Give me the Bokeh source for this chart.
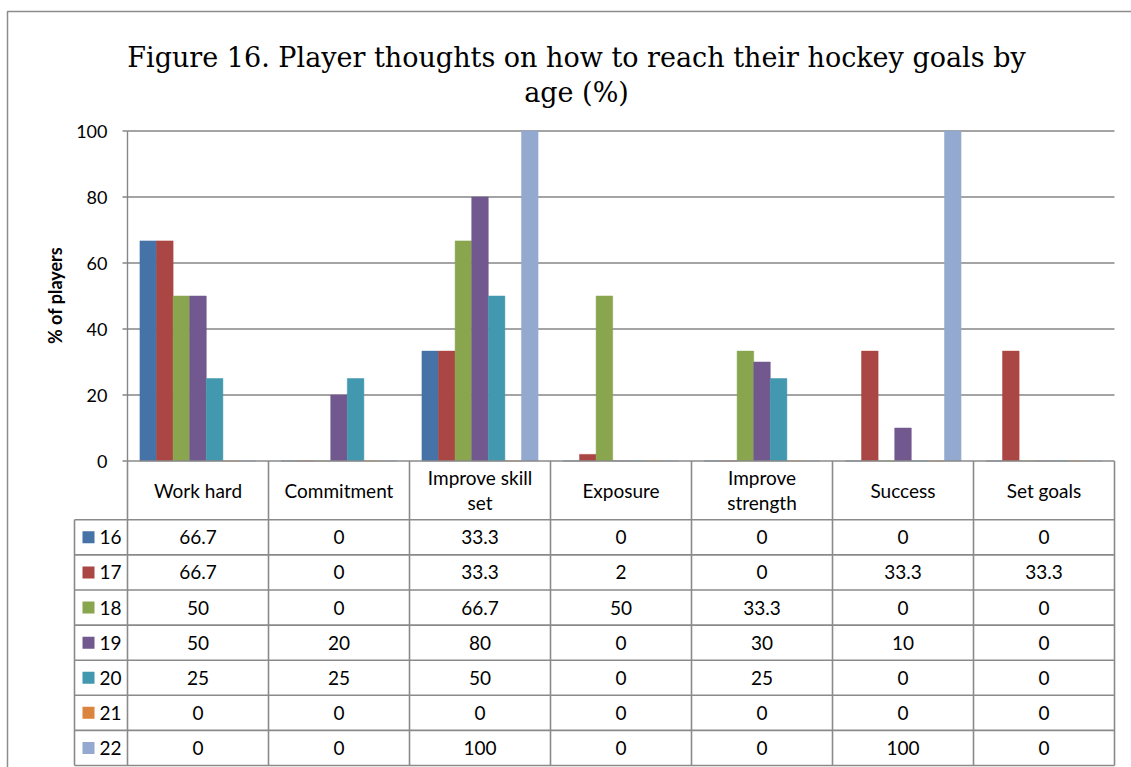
import numpy as np
from bokeh.plotting import figure
from bokeh.models import Range1d
from bokeh.core.properties import value
from bokeh.embed import file_html
from bokeh.resources import INLINE

# ---- data -------------------------------------------------------------
categories = ["Work hard", "Commitment", "Improve skill\nset", "Exposure",
              "Improve\nstrength", "Success", "Set goals"]
ages = ["16", "17", "18", "19", "20", "21", "22"]

age_16 = [66.7, 0, 33.3, 0, 0, 0, 0]
age_17 = [66.7, 0, 33.3, 2, 0, 33.3, 33.3]
age_18 = [50, 0, 66.7, 50, 33.3, 0, 0]
age_19 = [50, 20, 80, 0, 30, 10, 0]
age_20 = [25, 25, 50, 0, 25, 0, 0]
age_21 = [0, 0, 0, 0, 0, 0, 0]
age_22 = [0, 0, 100, 0, 0, 100, 0]

series = [age_16, age_17, age_18, age_19, age_20, age_21, age_22]
colors = ["#4572A7", "#AA4643", "#89A54E", "#71588F", "#4198AF", "#DB843D", "#93A9CF"]
y_ticks = [0, 20, 40, 60, 80, 100]

title_lines = ["Figure 16. Player thoughts on how to reach their hockey goals by", "age (%)"]
y_label = "% of players"

# ---- geometry (pixels) ------------------------------------------------
W, H = 1131, 767
PLOT_L = 127.0          # left edge of plot area / table columns
COL_W = 141.0           # width of one category column
Y0_PX = 460.5           # pixel row of value 0
PX_PER_UNIT = 3.3       # pixels per percentage point
ROW_H = 35.1            # table data-row height
HEADER_H = 58.8 / ROW_H # header row height in row units
LEGEND_L = (74 - PLOT_L) / COL_W
BAR_W = 1 / 8.5         # 7 bars + 1.5 bar-width gap per category

GRID = "#868686"
LINE = "#8a8a8a"
FONT = value("Lato")
TXT = "19px"

p = figure(width=W, height=H, output_backend="svg", toolbar_location=None,
           x_axis_location=None, y_axis_location=None, min_border=0,
           x_range=Range1d(-PLOT_L / COL_W, (W - PLOT_L) / COL_W),
           y_range=Range1d(-(H - Y0_PX) / PX_PER_UNIT, Y0_PX / PX_PER_UNIT))
p.outline_line_color = None
p.grid.visible = False
p.background_fill_color = "white"
p.border_fill_color = "white"

# table rows measured downward from the category axis
p.extra_y_ranges["tbl"] = Range1d(start=(H - Y0_PX) / ROW_H, end=-Y0_PX / ROW_H)
# raw pixel space for title / frame
p.extra_x_ranges["px"] = Range1d(0, W)
p.extra_y_ranges["px"] = Range1d(H, 0)

n_cat = len(categories)
n_ser = len(series)

# outer chart border
p.quad(left=7, right=W + 20, top=11, bottom=H + 20, fill_color=None,
       line_color="#8c8c8c", line_width=1.5, x_range_name="px", y_range_name="px")

# horizontal gridlines
grid_vals = [t for t in y_ticks if t > 0]
p.segment(x0=[0] * len(grid_vals), x1=[n_cat] * len(grid_vals), y0=grid_vals, y1=grid_vals,
          line_color=GRID, line_width=1.4)

# value axis line, ticks and labels
p.segment(x0=[0], x1=[0], y0=[0], y1=[max(y_ticks)], line_color=GRID, line_width=1.4)
p.segment(x0=[-5 / COL_W] * len(y_ticks), x1=[0] * len(y_ticks), y0=y_ticks, y1=y_ticks,
          line_color=GRID, line_width=1.4)
p.text(x=[-20 / COL_W] * len(y_ticks), y=y_ticks, text=[str(t) for t in y_ticks],
       text_align="right", text_baseline="middle", text_font=FONT,
       text_font_size="18px", text_color="#000000")

# clustered bars
cat_idx = np.arange(n_cat)
for j, (vals, c) in enumerate(zip(series, colors)):
    xs = cat_idx + 0.5 + (j - (n_ser - 1) / 2) * BAR_W
    p.vbar(x=xs, top=vals, bottom=0, width=BAR_W, fill_color=c, line_color=c, line_width=0.5)

# ---- data table -------------------------------------------------------
bottom = HEADER_H + n_ser
# horizontal rules: category axis / header top, then each data row
p.segment(x0=[0], x1=[n_cat], y0=[0], y1=[0], line_color=LINE, line_width=1.6, y_range_name="tbl")
row_lines = [HEADER_H + k for k in range(n_ser + 1)]
p.segment(x0=[LEGEND_L] * len(row_lines), x1=[n_cat] * len(row_lines), y0=row_lines, y1=row_lines,
          line_color=LINE, line_width=1.6, y_range_name="tbl")
# vertical rules
col_lines = list(range(n_cat + 1))
p.segment(x0=col_lines, x1=col_lines, y0=[0] * len(col_lines), y1=[bottom] * len(col_lines),
          line_color=LINE, line_width=1.6, y_range_name="tbl")
p.segment(x0=[LEGEND_L], x1=[LEGEND_L], y0=[HEADER_H], y1=[bottom],
          line_color=LINE, line_width=1.6, y_range_name="tbl")

# header labels (category names, wrapped)
hx, hy, ht = [], [], []
for i, name in enumerate(categories):
    parts = name.split("\n")
    for k, part in enumerate(parts):
        hx.append(i + 0.5)
        hy.append(HEADER_H / 2 + (k - (len(parts) - 1) / 2) * (25 / ROW_H))
        ht.append(part)
p.text(x=hx, y=hy, text=ht, text_align="center", text_baseline="middle", text_font=FONT,
       text_font_size=TXT, text_color="#000000", y_range_name="tbl")

# legend keys and series names
row_c = [HEADER_H + j + 0.5 for j in range(n_ser)]
p.rect(x=[(88 - PLOT_L) / COL_W] * n_ser, y=row_c, width=12, height=12,
       width_units="screen", height_units="screen", fill_color=colors, line_color=None,
       y_range_name="tbl")
p.text(x=[(99 - PLOT_L) / COL_W] * n_ser, y=row_c, text=ages, text_align="left",
       text_baseline="middle", text_font=FONT, text_font_size=TXT, text_color="#000000",
       y_range_name="tbl")

# cell values
cx, cy, ct = [], [], []
for j, vals in enumerate(series):
    for i, v in enumerate(vals):
        cx.append(i + 0.5)
        cy.append(row_c[j])
        ct.append(f"{v:g}")
p.text(x=cx, y=cy, text=ct, text_align="center", text_baseline="middle", text_font=FONT,
       text_font_size=TXT, text_color="#000000", y_range_name="tbl")

# ---- title and axis title --------------------------------------------
p.text(x=[576, 576], y=[57, 92], text=title_lines, text_align="center",
       text_baseline="alphabetic", text_font=value("DejaVu Serif"), text_font_size="27px",
       text_color="#000000", x_range_name="px", y_range_name="px")
p.text(x=[54], y=[295], text=[y_label], angle=np.pi / 2, text_align="center",
       text_baseline="middle", text_font=FONT, text_font_size="18px", text_font_style="bold",
       text_color="#000000", x_range_name="px", y_range_name="px")

with open("out.html", "w") as f:
    f.write(file_html(p, INLINE))
